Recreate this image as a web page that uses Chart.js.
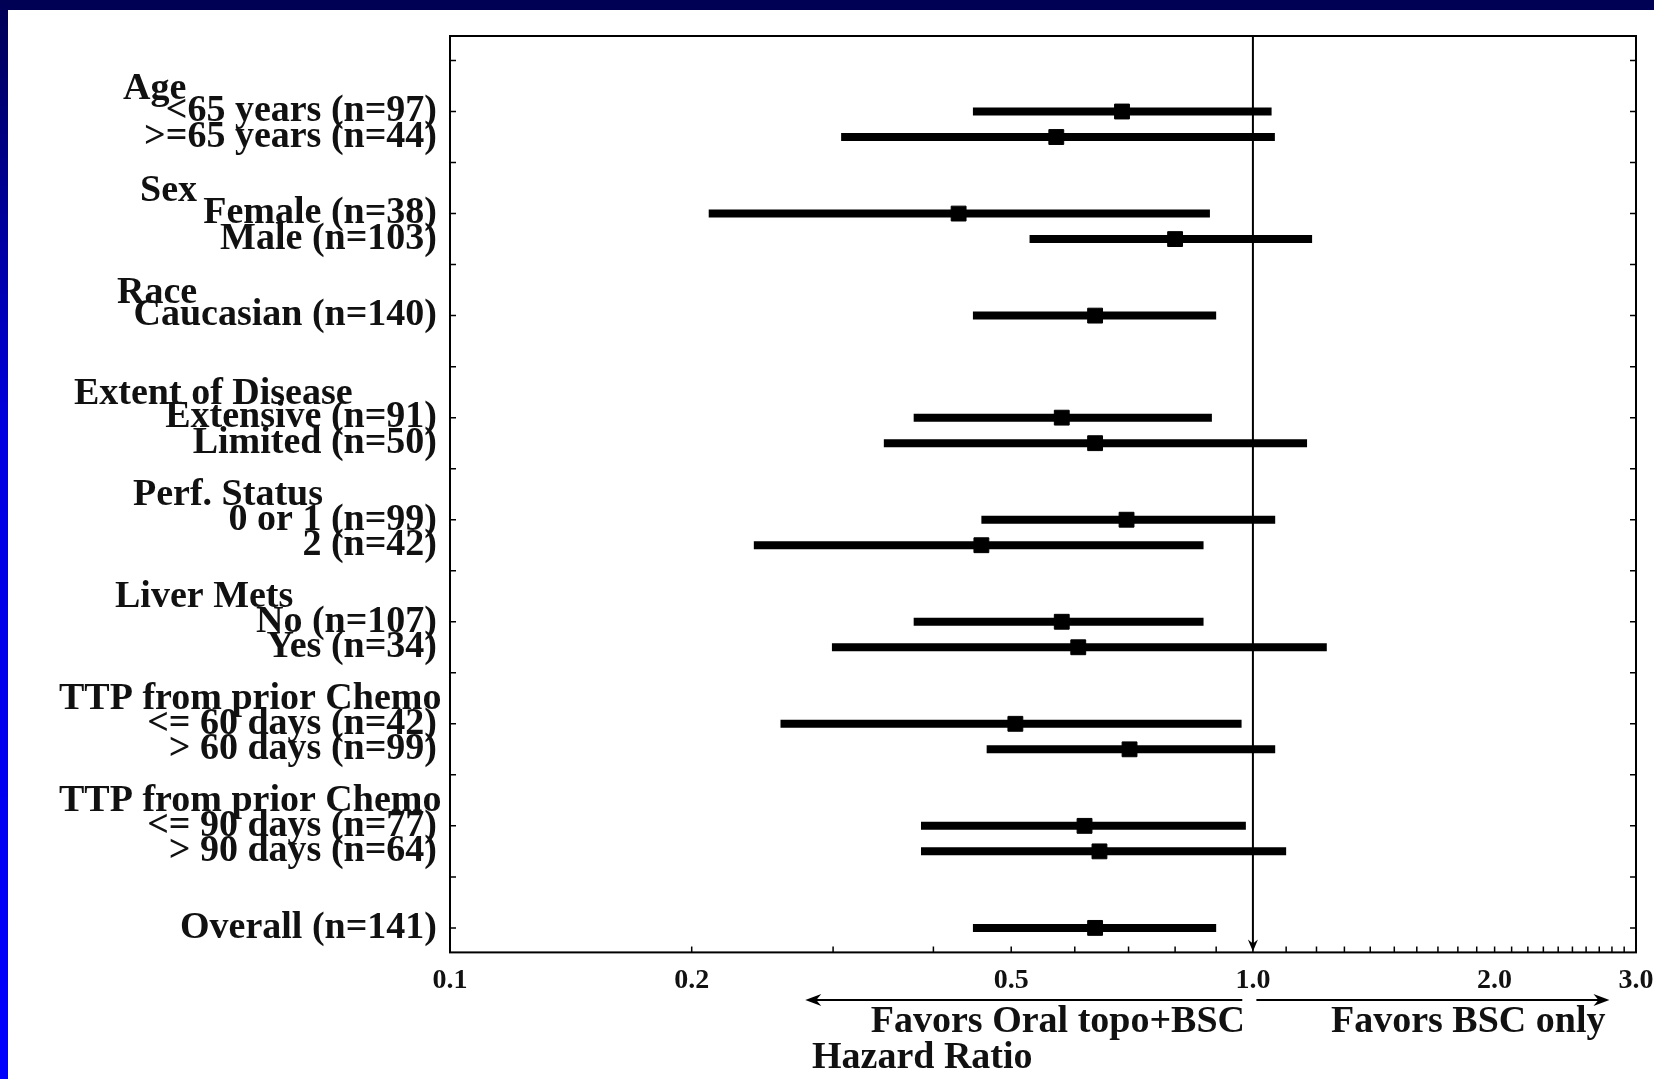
<!DOCTYPE html>
<html>
<head>
<meta charset="utf-8">
<script src="https://cdn.jsdelivr.net/npm/chart.js@4.4.0/dist/chart.umd.min.js"></script>
<style>
  html, body { margin: 0; padding: 0; background: #fff; }
  #wrap { position: relative; width: 1654px; height: 1079px; overflow: hidden; background: #fff; }
  #topBand { position: absolute; left: 0; top: 0; width: 1654px; height: 10px; background: #000054; }
  #leftBand { position: absolute; left: 0; top: 0; width: 8px; height: 1079px;
              background: linear-gradient(#000054, #0000e0 40%, #0000ff); }
  canvas { position: absolute; left: 0; top: 0; }
</style>
</head>
<body>
<div id="wrap">
  <canvas id="forest" width="1654" height="1079"></canvas>
  <div id="topBand"></div>
  <div id="leftBand"></div>
</div>
<script>
// Subgroup rows, top to bottom
const rowLabels = [
    '<65 years (n=97)', '>=65 years (n=44)',
    'Female (n=38)', 'Male (n=103)',
    'Caucasian (n=140)',
    'Extensive (n=91)', 'Limited (n=50)',
    '0 or 1 (n=99)', '2 (n=42)',
    'No (n=107)', 'Yes (n=34)',
    '<= 60 days (n=42)', '> 60 days (n=99)',
    '<= 90 days (n=77)', '> 90 days (n=64)',
    'Overall (n=141)'
];
const rowPos = [1, 1.5, 3, 3.5, 5, 7, 7.5, 9, 9.5, 11, 11.5, 13, 13.5, 15, 15.5, 17];

// Hazard ratio and 95% CI
const hazardRatio = [0.687, 0.569, 0.430, 0.800, 0.636, 0.578, 0.636, 0.696, 0.459, 0.578, 0.606, 0.506, 0.702, 0.617, 0.644, 0.636];
const lowerCI     = [0.448, 0.307, 0.210, 0.527, 0.448, 0.378, 0.347, 0.459, 0.239, 0.378, 0.299, 0.258, 0.466, 0.386, 0.386, 0.448];
const upperCI     = [1.055, 1.065, 0.884, 1.185, 0.900, 0.889, 1.168, 1.066, 0.868, 0.868, 1.236, 0.968, 1.066, 0.980, 1.100, 0.900];

// Group headings
const groupLabels = ['Age', 'Sex', 'Race', 'Extent of Disease', 'Perf. Status', 'Liver Mets', 'TTP from prior Chemo', 'TTP from prior Chemo'];
const groupPos = [0.56, 2.56, 4.56, 6.54, 8.52, 10.52, 12.52, 14.52];

// X axis ticks (log scale)
const xTickValues = [0.1, 0.2, 0.3, 0.4, 0.5, 0.6, 0.7, 0.8, 0.9, 1.0,
    1.1, 1.2, 1.3, 1.4, 1.5, 1.6, 1.7, 1.8, 1.9, 2.0,
    2.1, 2.2, 2.3, 2.4, 2.5, 2.6, 2.7, 2.8, 2.9, 3.0];
const xLabelValues = [0.1, 0.2, 0.5, 1.0, 2.0, 3.0];
const yTickValues = [0, 1, 2, 3, 4, 5, 6, 7, 8, 9, 10, 11, 12, 13, 14, 15, 16, 17];

// Layout bits for the decorations (not data)
const layout = {
    serif: '"Liberation Serif", "Times New Roman", serif',
    labelFont: 'bold 38px',
    labelRight: 437,
    headerLeft: [123, 140, 117, 74, 133, 115, 59, 59],
    arrowY: 1000,
    leftArrow: [0.97, 0.277],
    rightArrow: [1.01, 2.78],
    favorsLeftX: 1245, favorsRightX: 1331, favorsY: 1032,
    hrX: 812, hrY: 1068
};

// CI segments, broken with null between rows
const ciPoints = [];
rowPos.forEach((y, i) => {
    ciPoints.push({ x: lowerCI[i], y: y });
    ciPoints.push({ x: upperCI[i], y: y });
    ciPoints.push({ x: upperCI[i], y: null });
});

function arrow(ctx, x1, x2, y) {
    const dir = x2 > x1 ? 1 : -1;
    ctx.beginPath();
    ctx.moveTo(x1, y);
    ctx.lineTo(x2 - dir * 10, y);
    ctx.stroke();
    ctx.beginPath();
    ctx.moveTo(x2, y);
    ctx.lineTo(x2 - dir * 16, y - 6);
    ctx.lineTo(x2 - dir * 11, y);
    ctx.lineTo(x2 - dir * 16, y + 6);
    ctx.closePath();
    ctx.fill();
}

const forestDecor = {
    id: 'forestDecor',
    beforeDatasetsDraw(chart) {
        const { ctx, chartArea: a, scales: { x } } = chart;
        ctx.save();
        ctx.strokeStyle = '#000';
        ctx.fillStyle = '#000';
        // reference line at HR = 1 with small arrowhead at bottom
        const x1 = x.getPixelForValue(1.0);
        ctx.lineWidth = 2;
        ctx.beginPath();
        ctx.moveTo(x1, a.top);
        ctx.lineTo(x1, a.bottom - 8);
        ctx.stroke();
        ctx.beginPath();
        ctx.moveTo(x1, a.bottom - 1);
        ctx.lineTo(x1 - 5, a.bottom - 13);
        ctx.lineTo(x1, a.bottom - 9);
        ctx.lineTo(x1 + 5, a.bottom - 13);
        ctx.closePath();
        ctx.fill();
        ctx.restore();
    },
    afterDraw(chart) {
        const { ctx, chartArea: a, scales: { x, y } } = chart;
        ctx.save();
        ctx.strokeStyle = '#000';
        ctx.fillStyle = '#111';
        // frame
        ctx.lineWidth = 2;
        ctx.strokeRect(a.left, a.top, a.right - a.left, a.bottom - a.top);
        // inward ticks
        ctx.lineWidth = 1.5;
        ctx.beginPath();
        yTickValues.forEach(v => {
            const py = y.getPixelForValue(v);
            ctx.moveTo(a.left, py); ctx.lineTo(a.left + 6, py);
            ctx.moveTo(a.right, py); ctx.lineTo(a.right - 6, py);
        });
        xTickValues.forEach(v => {
            const px = x.getPixelForValue(v);
            ctx.moveTo(px, a.bottom); ctx.lineTo(px, a.bottom - 6);
        });
        ctx.stroke();

        // row labels
        ctx.font = layout.labelFont + ' ' + layout.serif;
        ctx.textBaseline = 'middle';
        ctx.textAlign = 'right';
        rowLabels.forEach((t, i) => {
            ctx.fillText(t, layout.labelRight, y.getPixelForValue(rowPos[i]));
        });
        ctx.textAlign = 'left';
        groupLabels.forEach((t, i) => {
            ctx.fillText(t, layout.headerLeft[i], y.getPixelForValue(groupPos[i]));
        });

        // favours arrows and captions
        ctx.lineWidth = 2;
        ctx.fillStyle = '#000';
        arrow(ctx, x.getPixelForValue(layout.leftArrow[0]), x.getPixelForValue(layout.leftArrow[1]), layout.arrowY);
        arrow(ctx, x.getPixelForValue(layout.rightArrow[0]), x.getPixelForValue(layout.rightArrow[1]), layout.arrowY);
        ctx.fillStyle = '#111';
        ctx.textBaseline = 'alphabetic';
        ctx.textAlign = 'right';
        ctx.fillText('Favors Oral topo+BSC', layout.favorsLeftX, layout.favorsY);
        ctx.textAlign = 'left';
        ctx.fillText('Favors BSC only', layout.favorsRightX, layout.favorsY);
        ctx.fillText('Hazard Ratio', layout.hrX, layout.hrY);
        ctx.restore();
    }
};

new Chart(document.getElementById('forest'), {
    type: 'scatter',
    data: {
        datasets: [
            {
                label: '95% CI',
                data: ciPoints,
                showLine: true,
                spanGaps: false,
                borderColor: '#000',
                borderWidth: 8,
                borderCapStyle: 'butt',
                pointRadius: 0,
                pointHoverRadius: 0
            },
            {
                label: 'Hazard Ratio',
                data: hazardRatio.map((v, i) => ({ x: v, y: rowPos[i] })),
                pointStyle: 'rect',
                pointRadius: 10.5,
                backgroundColor: '#000',
                borderColor: '#000',
                borderWidth: 1
            }
        ]
    },
    options: {
        responsive: false,
        animation: false,
        events: [],
        layout: { padding: { left: 450, right: 18, top: 36, bottom: 69 } },
        plugins: { legend: { display: false }, tooltip: { enabled: false } },
        scales: {
            x: {
                type: 'logarithmic',
                min: 0.1,
                max: 3.0,
                afterBuildTicks: (scale) => { scale.ticks = xTickValues.map(v => ({ value: v })); },
                afterFit: (scale) => { scale.paddingLeft = 0; scale.paddingRight = 0; },
                ticks: {
                    autoSkip: false,
                    maxRotation: 0,
                    color: '#111',
                    padding: 12,
                    font: { family: layout.serif, size: 28, weight: 'bold' },
                    callback: (v) => xLabelValues.includes(v) ? v.toFixed(1) : ''
                },
                grid: { drawOnChartArea: false, drawTicks: false },
                border: { display: false }
            },
            y: {
                type: 'linear',
                reverse: true,
                min: -0.48,
                max: 17.48,
                display: false
            }
        }
    },
    plugins: [forestDecor]
});
</script>
</body>
</html>
